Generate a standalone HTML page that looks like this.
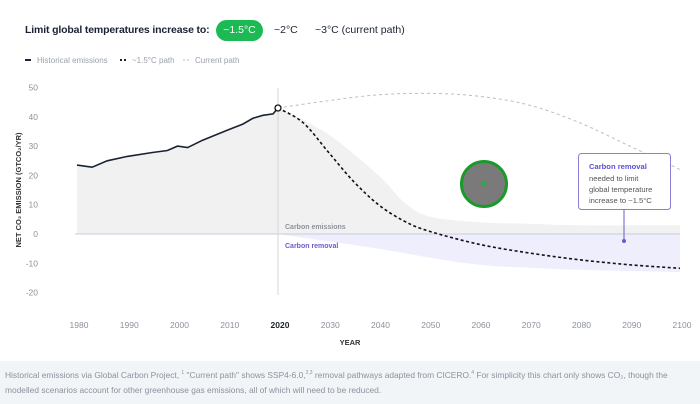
<!DOCTYPE html>
<html><head><meta charset="utf-8"><style>
body{margin:0;width:700px;height:404px;background:#fff;font-family:"Liberation Sans",sans-serif;overflow:hidden;position:relative}
.title{position:absolute;left:25px;top:24px;font-size:10.5px;font-weight:bold;color:#1a2233;letter-spacing:-0.15px}
.btn{position:absolute;font-size:10.5px;color:#1a2233}
.footer{position:absolute;left:0;top:361px;width:700px;height:43px;background:#f1f5f8;font-size:8.4px;color:#8b929c;line-height:15px;padding:5px 0 0 5px;box-sizing:border-box}
</style></head><body>
<div class="title">Limit global temperatures increase to:</div>
<div class="btn" style="left:216px;top:20px;width:47px;height:21px;background:#1db954;border-radius:11px;color:#fff;text-align:center;line-height:21px">~1.5°C</div>
<div class="btn" style="left:274px;top:24px">~2°C</div>
<div class="btn" style="left:315px;top:24px">~3°C (current path)</div>
<svg width="700" height="404" style="position:absolute;left:0;top:0" font-family="Liberation Sans, sans-serif">
<g font-size="8" fill="#9aa1ab">
<line x1="25" y1="60" x2="31" y2="60" stroke="#1a2233" stroke-width="2"/><text x="37" y="63">Historical emissions</text>
<line x1="120" y1="60" x2="127" y2="60" stroke="#1a2233" stroke-width="2" stroke-dasharray="2,2"/><text x="132" y="63">~1.5°C path</text>
<line x1="183" y1="60" x2="190" y2="60" stroke="#bbb" stroke-width="1" stroke-dasharray="2,2"/><text x="195" y="63">Current path</text>
</g>
<g id="chart"></g>
<g><circle cx="484" cy="184" r="22.5" fill="#7a7a7a" stroke="#1a9a2a" stroke-width="3"/><circle cx="484" cy="184" r="2.5" fill="#2aa84a"/></g>
<g>
<rect x="578.5" y="153.5" width="92" height="56" rx="3" fill="#fff" stroke="#8a7fd8"/>
<line x1="624" y1="210" x2="624" y2="241" stroke="#6a5acd"/><circle cx="624" cy="241" r="2" fill="#6a5acd"/>
<text font-size="7.6" fill="#555"><tspan x="589" y="169" fill="#5b4fd0" font-weight="bold">Carbon removal</tspan><tspan x="589" y="181">needed to limit</tspan><tspan x="589" y="192">global temperature</tspan><tspan x="589" y="203">increase to ~1.5°C</tspan></text>
</g>
<text x="21" y="190" transform="rotate(-90 21 190)" text-anchor="middle" font-size="7.5" font-weight="bold" fill="#333">NET CO₂ EMISSION (GTCO₂/YR)</text>
<text x="350" y="345" text-anchor="middle" font-size="7.5" font-weight="bold" fill="#333">YEAR</text>
</svg>
<div class="footer">Historical emissions via Global Carbon Project, <sup style="font-size:5px">1</sup> "Current path" shows SSP4-6.0,<sup style="font-size:5px">2,3</sup> removal pathways adapted from CICERO.<sup style="font-size:5px">4</sup> For simplicity this chart only shows CO₂, though the modelled scenarios account for other greenhouse gas emissions, all of which will need to be reduced.</div>
<script>
const histYears=[1980,1983,1986,1990,1995,1998,2000,2002,2005,2010,2013,2015,2017,2019,2020];
const histVals=[23.5,22.8,25,26.5,27.8,28.5,30,29.5,32,35.5,37.5,39.5,40.5,41,43];
const pathYears=[2020,2025,2030,2035,2040,2045,2050,2060,2070,2080,2090,2100];
const path15=[43,38,28,18,10,4.5,1,-3.5,-6.5,-8.8,-10.5,-11.7];
const curYears=[2020,2030,2040,2050,2060,2070,2080,2090,2100];
const curVals=[43,45.5,47.5,48,47,44,38,30,22];
const bandYears=[2020,2030,2040,2045,2050,2060,2070,2080,2100];
const bandUpper=[43,34,20,11,6,4,3.5,3,3];
const bandLower=[0,-2.5,-5,-6.5,-8,-10.5,-11.5,-12.2,-13];
const xTicks=[1980,1990,2000,2010,2020,2030,2040,2050,2060,2070,2080,2090,2100];
const yTicks=[50,40,30,20,10,0,-10,-20];
const x=y=>77+(y-1980)*(603/120);
const yS=v=>234-v*2.93;
const NS='http://www.w3.org/2000/svg';
const g=document.getElementById('chart');
function mk(t,a,name,inter){const e=document.createElementNS(NS,t);for(const k in a)e.setAttribute(k,a[k]);


g.appendChild(e);return e;}
function smooth(xs,vs){const p=xs.map((d,i)=>[x(d),yS(vs[i])]);let s='M'+p[0][0].toFixed(1)+','+p[0][1].toFixed(1);
for(let i=0;i<p.length-1;i++){const p0=p[Math.max(i-1,0)],p1=p[i],p2=p[i+1],p3=p[Math.min(i+2,p.length-1)];
const c1=[p1[0]+(p2[0]-p0[0])/6,p1[1]+(p2[1]-p0[1])/6],c2=[p2[0]-(p3[0]-p1[0])/6,p2[1]-(p3[1]-p1[1])/6];
s+=' C'+c1.map(v=>v.toFixed(1)).join(',')+' '+c2.map(v=>v.toFixed(1)).join(',')+' '+p2[0].toFixed(1)+','+p2[1].toFixed(1);}
return s;}
const lin=(xs,vs)=>'M'+xs.map((d,i)=>x(d).toFixed(1)+','+yS(vs[i]).toFixed(1)).join(' L');
mk('path',{d:lin(histYears,histVals)+' L'+x(2020)+','+yS(0)+' L'+x(1980)+','+yS(0)+'Z',fill:'#f1f1f1'},'historical-area');
mk('path',{d:smooth(bandYears,bandUpper)+' L'+x(2100)+','+yS(0)+' L'+x(2020)+','+yS(0)+'Z',fill:'#f1f1f1'},'carbon-emissions-band');
mk('path',{d:smooth(bandYears,bandLower)+' L'+x(2100)+','+yS(0)+' L'+x(2020)+','+yS(0)+'Z',fill:'#eeeefc'},'carbon-removal-band');
mk('line',{x1:x(1980)-2,x2:x(2100),y1:yS(0),y2:yS(0),stroke:'#c8cbe0'},'zero-line');
mk('line',{x1:x(2020),x2:x(2020),y1:88,y2:295,stroke:'#d4d6db'},'present-line');
yTicks.forEach(v=>{const t=mk('text',{x:38,y:yS(v)+3,'text-anchor':'end','font-size':8.5,fill:'#8b929c'},'y-tick-label');t.textContent=v;});
xTicks.forEach(v=>{const t=mk('text',{x:x(v)+2,y:328,'text-anchor':'middle','font-size':8.5,fill:v===2020?'#1a2233':'#8b929c','font-weight':v===2020?'bold':'normal'},'x-tick-label');t.textContent=v;});
mk('path',{d:smooth(curYears,curVals),fill:'none',stroke:'#bdbdbd','stroke-width':1,'stroke-dasharray':'3,3'},'current-path-line');
mk('path',{d:smooth(pathYears,path15),fill:'none',stroke:'#111','stroke-width':1.6,'stroke-dasharray':'3,2.5'},'path-1-5c-line');
mk('path',{d:lin(histYears,histVals),fill:'none',stroke:'#1a2233','stroke-width':1.6},'historical-line');
mk('circle',{cx:x(2020),cy:yS(43),r:3,fill:'#fff',stroke:'#111','stroke-width':1.3},'present-marker');
let t=mk('text',{x:285,y:229,'font-size':7,'font-weight':'bold',fill:'#8b929c'},'carbon-emissions-label');t.textContent='Carbon emissions';
t=mk('text',{x:285,y:248,'font-size':7,'font-weight':'bold',fill:'#6a5acd'},'carbon-removal-label');t.textContent='Carbon removal';
</script>
</body></html>
